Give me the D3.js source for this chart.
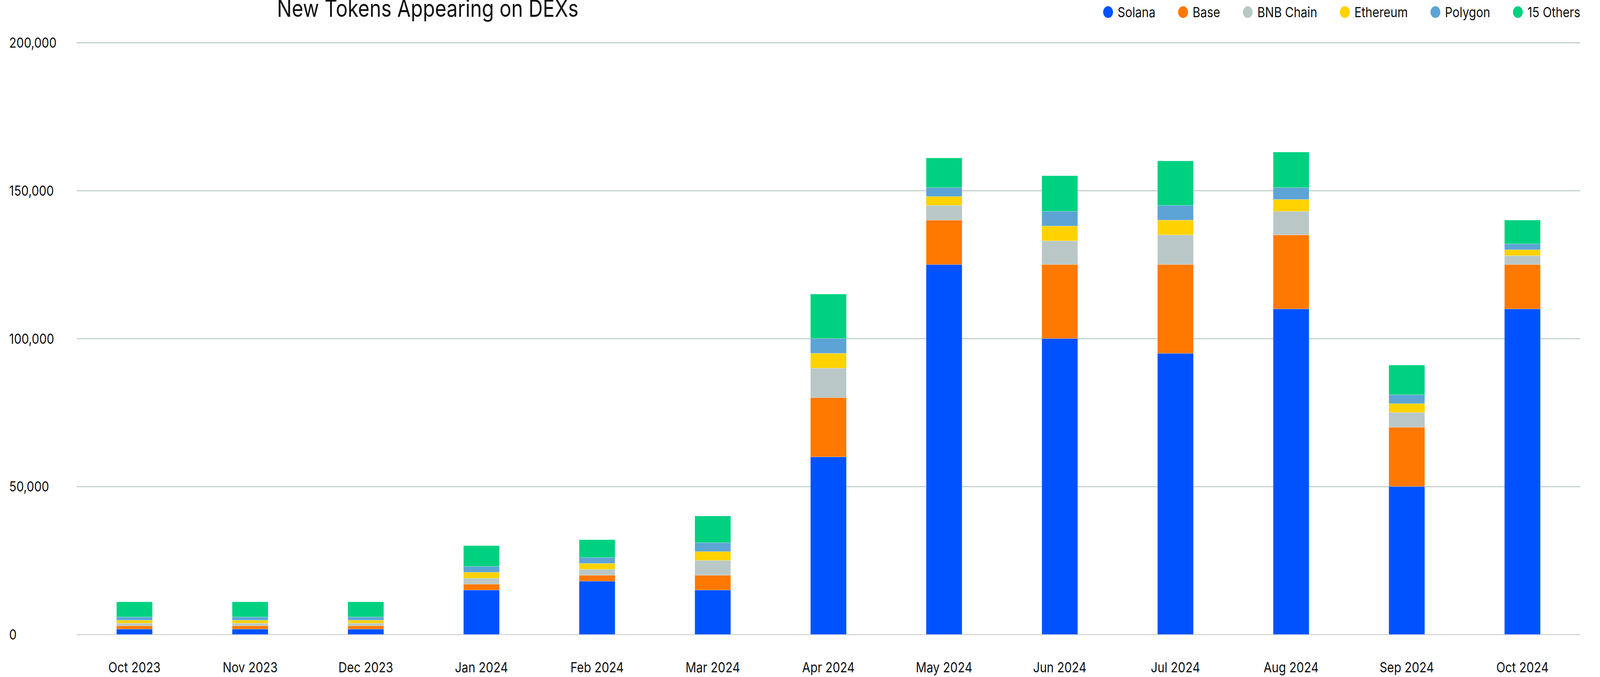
<!DOCTYPE html>
<html>
<head>
<meta charset="utf-8">
<script src="https://cdn.jsdelivr.net/npm/d3@7"></script>
<style>
  html, body { margin: 0; padding: 0; background: #fff; overflow: hidden; }
  svg { display: block; }
  text { font-family: Inter, "Open Sans", sans-serif; fill: #111; }
</style>
</head>
<body>
<div id="chart"></div>
<script>
// data
var months = ["Oct 2023", "Nov 2023", "Dec 2023", "Jan 2024", "Feb 2024", "Mar 2024", "Apr 2024",
              "May 2024", "Jun 2024", "Jul 2024", "Aug 2024", "Sep 2024", "Oct 2024"];
var seriesNames = ["Solana", "Base", "BNB Chain", "Ethereum", "Polygon", "15 Others"];
var seriesColors = ["#0052ff", "#ff7800", "#b9c8c7", "#ffd200", "#5ca4d5", "#00d180"];

var solana   = [1800, 1800, 1800, 15000, 18000, 15000, 60000, 125000, 100000, 95000, 110000, 50000, 110000];
var base     = [1100, 1100, 1100, 2000, 2000, 5000, 20000, 15000, 25000, 30000, 25000, 20000, 15000];
var bnb      = [900, 900, 900, 2000, 2000, 5000, 10000, 5000, 8000, 10000, 8000, 5000, 3000];
var ethereum = [1000, 1000, 1000, 2000, 2000, 3000, 5000, 3000, 5000, 5000, 4000, 3000, 2000];
var polygon  = [1100, 1100, 1100, 2000, 2000, 3000, 5000, 3000, 5000, 5000, 4000, 3000, 2000];
var others   = [5100, 5100, 5100, 7000, 6000, 9000, 15000, 10000, 12000, 15000, 12000, 10000, 8000];

var yTicks = [0, 50000, 100000, 150000, 200000];

// drawing is done in a 4865x1733 box, stretched over the whole window
var svgWidth = 4865, svgHeight = 1733;
var plotLeft = 233, plotRight = 4805, plotTop = 109, plotBottom = 1624;

var svg = d3.select("#chart").append("svg")
    .attr("viewBox", "0 0 " + svgWidth + " " + svgHeight)
    .attr("preserveAspectRatio", "none")
    .attr("width", window.innerWidth)
    .attr("height", window.innerHeight);

// build rows for the stack
var allSeries = [solana, base, bnb, ethereum, polygon, others];
var rows = months.map(function(m, i) {
  var r = { month: m };
  seriesNames.forEach(function(s, j) { r[s] = allSeries[j][i]; });
  return r;
});
var stacked = d3.stack().keys(seriesNames)(rows);

var x = d3.scaleBand()
    .domain(months)
    .range([plotLeft, plotRight])
    .paddingInner(0.69)
    .paddingOuter(0.345);

var y = d3.scaleLinear()
    .domain([0, 200000])
    .range([plotBottom, plotTop]);

var color = d3.scaleOrdinal().domain(seriesNames).range(seriesColors);

// y axis with gridlines
var yAxis = svg.append("g")
    .attr("transform", "translate(" + plotLeft + ",0)")
    .call(d3.axisLeft(y).tickValues(yTicks).tickFormat(d3.format(","))
          .tickSize(-(plotRight - plotLeft)));
yAxis.select(".domain").remove();
yAxis.selectAll(".tick line")
    .attr("stroke", function(d) { return d === 0 ? "#d9d9d9" : "#c4d2d2"; })
    .attr("stroke-width", 3);
yAxis.selectAll(".tick text")
    .attr("x", 28 - plotLeft)
    .attr("text-anchor", "start")
    .attr("dy", "0.35em")
    .style("font-size", "36px")
    .style("fill", "#111");

// bars
svg.append("g").selectAll("g")
  .data(stacked)
  .enter().append("g")
    .attr("fill", function(d) { return color(d.key); })
  .selectAll("rect")
  .data(function(d) { return d; })
  .enter().append("rect")
    .attr("x", function(d) { return x(d.data.month); })
    .attr("width", x.bandwidth())
    .attr("y", function(d) { return y(d[1]); })
    .attr("height", function(d) { return y(d[0]) - y(d[1]); })
    .attr("stroke", "#ffffff")
    .attr("stroke-opacity", 0.35)
    .attr("stroke-width", 1);

// x axis labels
var xAxis = svg.append("g")
    .attr("transform", "translate(0," + plotBottom + ")")
    .call(d3.axisBottom(x).tickSize(0).tickPadding(71));
xAxis.select(".domain").remove();
xAxis.selectAll(".tick text")
    .style("font-size", "36px")
    .style("fill", "#111");

// title
svg.append("text")
    .attr("x", 842)
    .attr("y", 43)
    .style("font-size", "60px")
    .text("New Tokens Appearing on DEXs");

// legend, right aligned to the plot edge
var legend = svg.append("g");
var items = legend.selectAll("g")
  .data(seriesNames)
  .enter().append("g");
items.append("circle")
    .attr("r", 15)
    .attr("cy", 31)
    .attr("fill", function(d) { return color(d); });
items.append("text")
    .attr("x", 29)
    .attr("y", 44)
    .style("font-size", "36px")
    .text(function(d) { return d; });

var widths = [];
items.select("text").each(function() { widths.push(this.getComputedTextLength()); });
var gap = 84;
var total = 0;
widths.forEach(function(w, i) { total += 29 + w + (i < widths.length - 1 ? gap : 0); });
var cursor = plotRight - total;
items.attr("transform", function(d, i) {
  var t = "translate(" + cursor + ",0)";
  cursor += 29 + widths[i] + gap;
  return t;
});
</script>
</body>
</html>
